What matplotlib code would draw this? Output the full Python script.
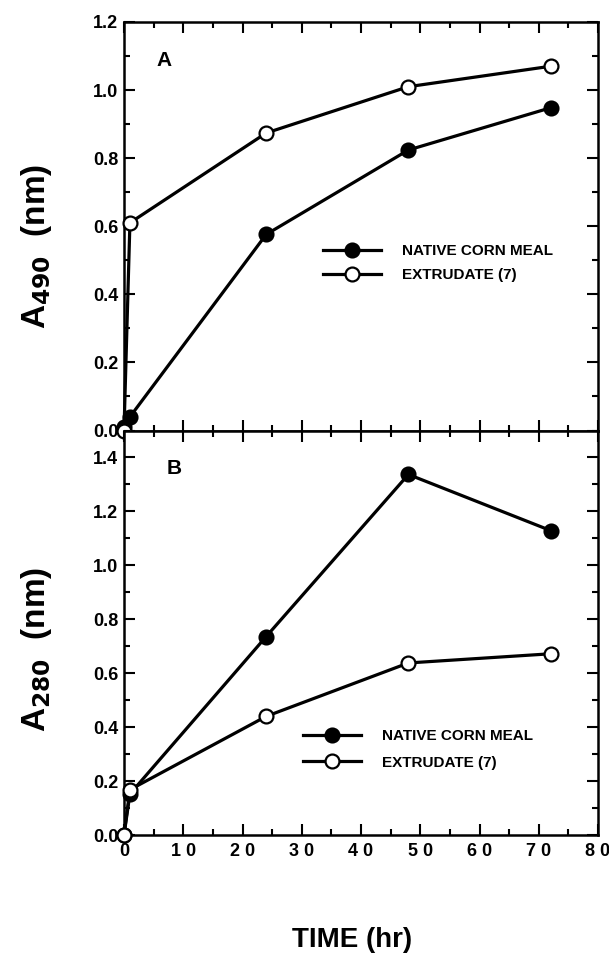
import numpy as np
import matplotlib.pyplot as plt
from matplotlib.ticker import MultipleLocator

plt.rcParams['font.family'] = ['Liberation Sans', 'DejaVu Sans']
plt.rcParams['font.weight'] = 'bold'

# time points (hr)
time = [0, 1, 24, 48, 72]

# panel A: A490
a_native = [0.01, 0.04, 0.576, 0.824, 0.948]
a_extr = [0.0, 0.61, 0.874, 1.01, 1.07]

# panel B: A280
b_native = [0.0, 0.152, 0.736, 1.337, 1.129]
b_extr = [0.0, 0.168, 0.44, 0.638, 0.672]

x_ticks = [0, 10, 20, 30, 40, 50, 60, 70, 80]
x_tick_labels = ['0', '1 0', '2 0', '3 0', '4 0', '5 0', '6 0', '7 0', '8 0']
a_yticks = [0.0, 0.2, 0.4, 0.6, 0.8, 1.0, 1.2]
b_yticks = [0.0, 0.2, 0.4, 0.6, 0.8, 1.0, 1.2, 1.4]

W, H = 609, 959
fig = plt.figure(figsize=(W / 100, H / 100), dpi=100)
left, right = 124 / W, 598 / W
axA = fig.add_axes([left, 1 - 430.5 / H, right - left, 408.5 / H])
axB = fig.add_axes([left, 1 - 835 / H, right - left, 404.5 / H])

style = dict(color='black', linewidth=2.3, markersize=10, markeredgewidth=1.6,
             markeredgecolor='black', clip_on=False, zorder=3)


def setup(ax, ylim, yticks):
    ax.set_xlim(0, 80)
    ax.set_ylim(*ylim)
    ax.xaxis.set_major_locator(MultipleLocator(10))
    ax.xaxis.set_minor_locator(MultipleLocator(5))
    ax.yaxis.set_minor_locator(MultipleLocator(0.1))
    ax.tick_params(which='both', direction='in', top=True, right=True, width=1.5)
    ax.tick_params(which='major', length=8)
    ax.tick_params(which='minor', length=4)
    ax.tick_params(axis='y', labelsize=13, pad=4)
    for s in ax.spines.values():
        s.set_linewidth(1.8)
    ax.set_yticks(yticks)
    ax.set_yticklabels(['%.1f' % v for v in yticks], fontweight='bold')


# A
setup(axA, (0, 1.2), a_yticks)
axA.plot(time, a_native, 'o-', markerfacecolor='black', label='NATIVE CORN MEAL', **style)
axA.plot(time, a_extr, 'o-', markerfacecolor='white', label='EXTRUDATE (7)', **style)
axA.set_xticklabels([])
axA.text(0.085, 0.905, 'A', transform=axA.transAxes, fontsize=15, fontweight='bold',
         ha='center', va='center')
axA.legend(loc='upper left', bbox_to_anchor=(0.403, 0.475), frameon=False, fontsize=11,
           handlelength=3.8, handletextpad=1.4, labelspacing=0.65, borderpad=0)
axA.set_ylabel('A$_{\\mathbf{490}}$  (nm)', fontsize=24, fontweight='bold')
axA.yaxis.set_label_coords(-0.147, 0.45)

# B
setup(axB, (0, 1.5), b_yticks)
axB.plot(time, b_native, 'o-', markerfacecolor='black', label='NATIVE CORN MEAL', **style)
axB.plot(time, b_extr, 'o-', markerfacecolor='white', label='EXTRUDATE (7)', **style)
axB.set_xticks(x_ticks)
axB.set_xticklabels(x_tick_labels, fontsize=13, fontweight='bold')
axB.tick_params(axis='x', pad=6)
axB.text(0.105, 0.905, 'B', transform=axB.transAxes, fontsize=15, fontweight='bold',
         ha='center', va='center')
axB.legend(loc='upper left', bbox_to_anchor=(0.361, 0.28), frameon=False, fontsize=11,
           handlelength=3.8, handletextpad=1.4, labelspacing=0.8, borderpad=0)
axB.set_ylabel('A$_{\\mathbf{280}}$  (nm)', fontsize=24, fontweight='bold')
axB.yaxis.set_label_coords(-0.147, 0.46)

fig.text(352 / W, 1 - 940 / H, 'TIME (hr)', fontsize=20, fontweight='bold',
         ha='center', va='center')

fig.savefig('out.png', dpi=100)
